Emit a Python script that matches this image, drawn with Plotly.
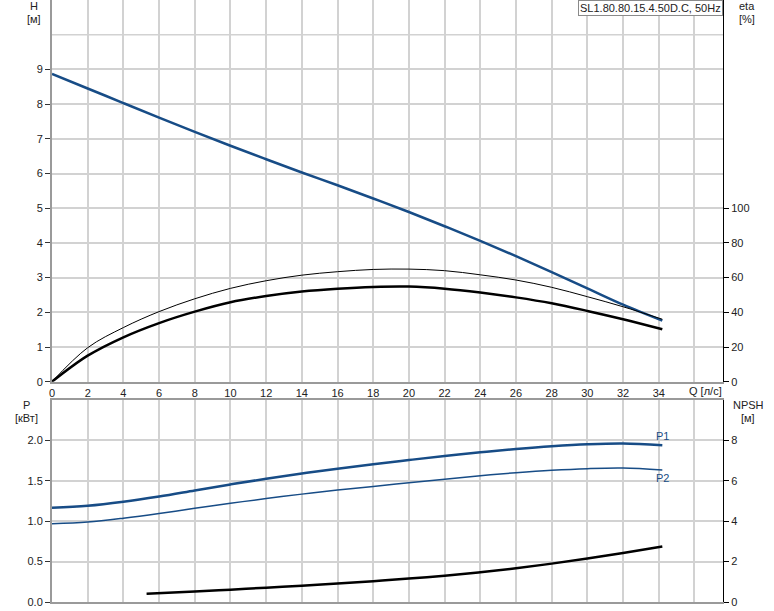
import plotly.graph_objects as go

# ---------------- data ----------------
q = [0, 2, 4, 6, 8, 10, 12, 14, 16, 18, 20, 22, 24, 26, 28, 30, 32, 34.2]
head = [8.87, 8.45, 8.03, 7.61, 7.20, 6.80, 6.41, 6.03, 5.66, 5.28,
        4.89, 4.48, 4.06, 3.62, 3.16, 2.69, 2.22, 1.76]
eta_thin = [0, 19.6, 31.2, 40.4, 47.8, 53.8, 58.2, 61.4, 63.4, 64.7,
            64.9, 64.0, 61.6, 58.6, 54.4, 49.0, 43.2, 36.0]
eta_thick = [0, 15.0, 25.6, 33.8, 40.4, 45.8, 49.4, 52.0, 53.6, 54.6,
             54.8, 53.6, 51.4, 48.6, 45.2, 40.8, 36.0, 30.2]
p1 = [1.166, 1.19, 1.24, 1.305, 1.38, 1.455, 1.525, 1.59, 1.65, 1.705,
      1.757, 1.807, 1.853, 1.893, 1.927, 1.952, 1.962, 1.94]
p2 = [0.968, 0.99, 1.037, 1.095, 1.16, 1.222, 1.28, 1.335, 1.385, 1.43,
      1.476, 1.52, 1.563, 1.60, 1.63, 1.65, 1.657, 1.633]
q_npsh = [5.3, 8, 10, 12, 14, 16, 18, 20, 22, 24, 26, 28, 30, 32, 34.2]
npsh = [0.41, 0.52, 0.61, 0.71, 0.81, 0.92, 1.03, 1.16, 1.30, 1.47,
        1.67, 1.90, 2.15, 2.43, 2.75]

x_ticks = list(range(0, 38, 2))
x_ticktext = [str(v) for v in range(0, 36, 2)] + [""]
h_ticks = list(range(0, 10))
eta_ticks = [0, 20, 40, 60, 80, 100]
p_ticks = [0.0, 0.5, 1.0, 1.5, 2.0]
p_ticktext = ["0.0", "0.5", "1.0", "1.5", "2.0"]
npsh_ticks = [0, 2, 4, 6, 8]
title_text = "SL1.80.80.15.4.50D.C, 50Hz"

# ---------------- style ----------------
BLUE = "#174c86"
GRID = "#d2d2d2"
AXG = "#9a9a9a"
FONT = "Liberation Sans, Arial, sans-serif"
TXT = "#222222"

W, H = 774, 611
ML, MR, MT, MB = 52, 51, 0, 9
plot_h = H - MT - MB
top_dom = [(plot_h - 381.7) / plot_h, 1.0]
bot_dom = [0.0, (plot_h - 400) / plot_h]

fig = go.Figure()

fig.add_trace(go.Scatter(x=q, y=eta_thin, xaxis="x", yaxis="y2", mode="lines",
                         line=dict(color="black", width=1, shape="spline"),
                         showlegend=False, hoverinfo="skip"))
fig.add_trace(go.Scatter(x=q, y=eta_thick, xaxis="x", yaxis="y2", mode="lines",
                         line=dict(color="black", width=2.5, shape="spline"),
                         showlegend=False, hoverinfo="skip"))
fig.add_trace(go.Scatter(x=q, y=head, xaxis="x", yaxis="y", mode="lines",
                         line=dict(color=BLUE, width=2.5, shape="spline"),
                         showlegend=False, hoverinfo="skip"))

fig.add_trace(go.Scatter(x=q, y=p1, xaxis="x2", yaxis="y3", mode="lines",
                         line=dict(color=BLUE, width=2.5, shape="spline"),
                         showlegend=False, hoverinfo="skip"))
fig.add_trace(go.Scatter(x=q, y=p2, xaxis="x2", yaxis="y3", mode="lines",
                         line=dict(color=BLUE, width=1.5, shape="spline"),
                         showlegend=False, hoverinfo="skip"))
fig.add_trace(go.Scatter(x=q_npsh, y=npsh, xaxis="x2", yaxis="y4", mode="lines",
                         line=dict(color="black", width=2.5, shape="spline"),
                         showlegend=False, hoverinfo="skip"))

tickfont = dict(family=FONT, size=11, color=TXT)
xr = [0, 37.6]

fig.update_layout(
    width=W, height=H,
    margin=dict(l=ML, r=MR, t=MT, b=MB),
    paper_bgcolor="white", plot_bgcolor="white",
    font=dict(family=FONT, size=11, color=TXT),
    xaxis=dict(domain=[0, 1], range=xr, anchor="y", tickvals=x_ticks,
               ticktext=x_ticktext, ticks="", showgrid=True, gridcolor=GRID,
               gridwidth=1.5, showline=True, linecolor=AXG, linewidth=2,
               zeroline=False, tickfont=tickfont, fixedrange=True),
    yaxis=dict(domain=top_dom, range=[0, 11], anchor="x", tickvals=h_ticks,
               ticks="outside", ticklen=5, tickcolor="#333", showgrid=True,
               gridcolor=GRID, gridwidth=1.5, showline=True, linecolor=AXG,
               linewidth=2, zeroline=False, tickfont=tickfont),
    yaxis2=dict(range=[0, 220], overlaying="y", side="right", anchor="x",
                tickvals=eta_ticks, ticks="outside", ticklen=5,
                tickcolor="black", showgrid=False, showline=True,
                linecolor="black", linewidth=1, zeroline=False,
                tickfont=tickfont),
    xaxis2=dict(domain=[0, 1], range=xr, anchor="y3", tickvals=x_ticks,
                showticklabels=False, ticks="", showgrid=True, gridcolor=GRID,
                gridwidth=1.5, showline=True, mirror=True, linecolor=AXG,
                linewidth=2, zeroline=False),
    yaxis3=dict(domain=bot_dom, range=[0, 2.5], anchor="x2", tickvals=p_ticks,
                ticktext=p_ticktext, ticks="outside", ticklen=5,
                tickcolor="#333", showgrid=True, gridcolor=GRID, gridwidth=1.5,
                showline=True, linecolor=AXG, linewidth=2, zeroline=False,
                tickfont=tickfont),
    yaxis4=dict(range=[0, 10], overlaying="y3", side="right", anchor="x2",
                tickvals=npsh_ticks, ticks="outside", ticklen=5,
                tickcolor="black", showgrid=False, showline=True,
                linecolor="black", linewidth=1, zeroline=False,
                tickfont=tickfont),
)

# H = 10 gridline (no label)
fig.add_shape(type="line", xref="x domain", yref="y", x0=0, x1=1, y0=10, y1=10,
              line=dict(color=GRID, width=1.5), layer="below")


def px_x(px):
    return (px - ML) / (W - ML - MR)


def px_y(py):
    return (H - MB - py) / plot_h


def label(text, x, y, **kw):
    fig.add_annotation(text=text, xref="paper", yref="paper", x=px_x(x),
                       y=px_y(y), showarrow=False, xanchor="center",
                       yanchor="middle", font=dict(family=FONT, size=11,
                                                   color=kw.get("color", TXT)))


label("H", 34, 6)
label("[м]", 34, 19)
label("eta", 747, 6)
label("[%]", 747, 19)
label("P", 26, 405)
label("[кВт]", 26, 418)
label("NPSH", 748, 405)
label("[м]", 748, 418)
label("Q [л/с]", 705, 391)

fig.add_annotation(text="P1", xref="x2", yref="y3", x=q[-1], y=p1[-1],
                   yshift=9, showarrow=False, xanchor="center",
                   font=dict(family=FONT, size=11, color=BLUE))
fig.add_annotation(text="P2", xref="x2", yref="y3", x=q[-1], y=p2[-1],
                   yshift=-8, showarrow=False, xanchor="center",
                   font=dict(family=FONT, size=11, color=BLUE))

fig.add_annotation(text=title_text, xref="paper", yref="paper", x=1, y=1,
                   xanchor="right", yanchor="top", showarrow=False,
                   bgcolor="white", bordercolor="#8a8a8a", borderwidth=1,
                   borderpad=1, font=dict(family=FONT, size=11, color=TXT))

fig.write_html("out.html",
               config={"displayModeBar": False},
               post_script="document.body.style.margin='0';"
                           "document.body.style.padding='0';")
